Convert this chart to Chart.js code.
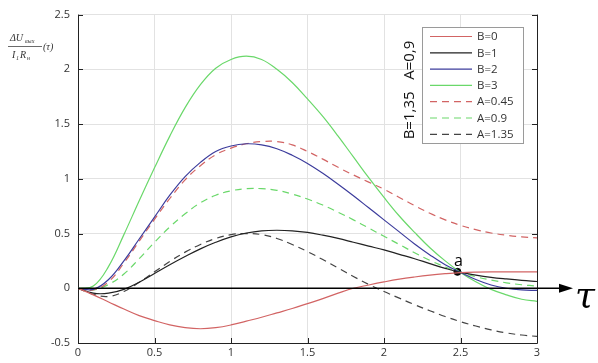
<!DOCTYPE html>
<html><head><meta charset="utf-8">
<script src="https://cdn.jsdelivr.net/npm/chart.js@4"></script>
<style>html,body{margin:0;padding:0;background:#fff}#wrap{width:598px;height:363px}</style>
</head><body><div id="wrap"><canvas id="c" width="598" height="363"></canvas></div>
<script>
const taus = [0,0.1,0.2,0.3,0.4,0.5,0.6,0.7,0.8,0.9,1.0,1.1,1.2,1.3,1.4,1.5,1.6,1.7,1.8,1.9,2.0,2.1,2.2,2.3,2.4,2.5,2.6,2.7,2.8,2.9,3.0];
const B0 = [0,-0.06,-0.125,-0.19,-0.25,-0.295,-0.335,-0.36,-0.37,-0.36,-0.335,-0.30,-0.265,-0.225,-0.185,-0.14,-0.095,-0.045,0.0,0.03,0.058,0.083,0.103,0.12,0.133,0.143,0.148,0.15,0.15,0.15,0.15];
const B1 = [0,-0.045,-0.045,-0.01,0.055,0.135,0.215,0.29,0.36,0.42,0.47,0.505,0.525,0.53,0.525,0.51,0.485,0.455,0.42,0.385,0.35,0.31,0.27,0.225,0.182,0.145,0.12,0.10,0.085,0.072,0.062];
const B2 = [0,-0.01,0.08,0.25,0.45,0.65,0.85,1.02,1.15,1.25,1.30,1.32,1.31,1.275,1.215,1.14,1.05,0.95,0.845,0.735,0.625,0.515,0.405,0.305,0.215,0.145,0.08,0.03,0.0,-0.015,-0.02];
const B3 = [0,0.02,0.2,0.49,0.8,1.1,1.39,1.65,1.86,2.01,2.09,2.12,2.09,2.0,1.88,1.73,1.57,1.39,1.2,1.01,0.83,0.66,0.51,0.37,0.25,0.145,0.06,-0.01,-0.06,-0.10,-0.12];
const A045 = [0,-0.015,0.06,0.23,0.43,0.63,0.82,0.99,1.12,1.22,1.28,1.32,1.34,1.34,1.31,1.25,1.18,1.105,1.035,0.97,0.905,0.83,0.755,0.685,0.625,0.575,0.535,0.505,0.485,0.47,0.46];
const A09 = [0,-0.015,0.035,0.13,0.27,0.42,0.56,0.68,0.78,0.85,0.89,0.91,0.91,0.895,0.86,0.815,0.76,0.695,0.625,0.55,0.475,0.40,0.325,0.255,0.195,0.145,0.105,0.075,0.05,0.032,0.02];
const A135 = [0,-0.055,-0.075,-0.03,0.055,0.15,0.245,0.33,0.40,0.455,0.49,0.50,0.49,0.455,0.40,0.335,0.262,0.185,0.108,0.035,-0.03,-0.09,-0.15,-0.205,-0.258,-0.305,-0.345,-0.38,-0.408,-0.427,-0.44];
const pointA = [{x:2.48, y:0.15}];
const seriesLabels = ['B=0','B=1','B=2','B=3','A=0.45','A=0.9','A=1.35'];
const xTicks = [0,0.5,1,1.5,2,2.5,3];
const yTicks = [-0.5,0,0.5,1,1.5,2,2.5];

const seriesData = [B0,B1,B2,B3,A045,A09,A135];
const colors = ['#d26464','#222222','#3c3c9c','#6ad86a','#d26464','#6ad86a','#444444'];
const dashed = [false,false,false,false,true,true,true];
const toXY = arr => arr.map((v,i)=>({x:taus[i], y:v}));

const datasets = seriesData.map((arr,i)=>({
  label: seriesLabels[i], data: toXY(arr), borderColor: colors[i], borderWidth: 1.2,
  borderDash: dashed[i] ? [7,5] : [], pointRadius: 0, tension: 0.4, fill:false
}));
datasets.push({label:'a', type:'scatter', data: pointA, pointRadius: 3.5, backgroundColor:'#000', borderColor:'#000', isPoint:true});

const overlay = {
  id:'overlay',
  beforeDatasetsDraw(chart){
    const {ctx, scales:{x,y}, chartArea:a} = chart;
    ctx.save();
    ctx.strokeStyle = '#222'; ctx.lineWidth = 1;
    ctx.beginPath();
    ctx.moveTo(a.left+0.5, a.top); ctx.lineTo(a.left+0.5, a.bottom+0.5);
    ctx.lineTo(a.right+0.5, a.bottom+0.5); ctx.lineTo(a.right+0.5, a.top);
    ctx.stroke();
    ctx.beginPath();
    yTicks.forEach(v=>{ const py=Math.round(y.getPixelForValue(v))+0.5;
      ctx.moveTo(a.left, py); ctx.lineTo(a.left+5, py);
      ctx.moveTo(a.right, py); ctx.lineTo(a.right-5, py); });
    xTicks.forEach(v=>{ const px=Math.round(x.getPixelForValue(v))+0.5;
      ctx.moveTo(px, a.bottom); ctx.lineTo(px, a.bottom-5); });
    ctx.stroke();
    ctx.restore();
  },
  afterDatasetsDraw(chart){
    const {ctx, scales:{x,y}, chartArea:a} = chart;
    ctx.save();
    const y0 = y.getPixelForValue(0);
    ctx.strokeStyle='#000'; ctx.lineWidth=1.6;
    ctx.beginPath(); ctx.moveTo(a.left, y0); ctx.lineTo(a.right+26, y0); ctx.stroke();
    ctx.fillStyle='#000';
    ctx.beginPath(); ctx.moveTo(a.right+36, y0); ctx.lineTo(a.right+22, y0-4.5); ctx.lineTo(a.right+22, y0+4.5); ctx.closePath(); ctx.fill();
    ctx.font='italic 36px "DejaVu Serif", "Liberation Serif", serif';
    ctx.textAlign='left'; ctx.textBaseline='middle';
    ctx.fillText('τ', a.right+38, y0+9);
    const pa = pointA[0];
    ctx.font='16px "Open Sans", "DejaVu Sans", sans-serif';
    ctx.textAlign='center'; ctx.textBaseline='bottom';
    ctx.fillText('a', x.getPixelForValue(pa.x)+1, y.getPixelForValue(pa.y)-2);
    // legend
    const lx=422, ly=27, lw=101, lh=116;
    ctx.fillStyle='#fff'; ctx.fillRect(lx,ly,lw,lh);
    ctx.strokeStyle='#9a9a9a'; ctx.lineWidth=1; ctx.strokeRect(lx+0.5,ly+0.5,lw,lh);
    ctx.font='11.5px "Open Sans", "DejaVu Sans", sans-serif';
    ctx.textAlign='left'; ctx.textBaseline='middle';
    chart.data.datasets.forEach((ds,i)=>{
      if (ds.isPoint) return;
      const ry = 36.5 + i*16.3;
      ctx.strokeStyle = ds.borderColor; ctx.lineWidth=1.2;
      ctx.setLineDash(ds.borderDash||[]);
      ctx.beginPath(); ctx.moveTo(430, ry); ctx.lineTo(472, ry); ctx.stroke();
      ctx.setLineDash([]);
      ctx.fillStyle='#333'; ctx.fillText(ds.label, 477, ry+0.5);
    });
    ctx.save();
    ctx.translate(410, 90); ctx.rotate(-Math.PI/2);
    ctx.font='15px "Open Sans", "DejaVu Sans", sans-serif';
    ctx.fillStyle='#111'; ctx.textAlign='center'; ctx.textBaseline='middle';
    ctx.fillText('B=1,35   A=0,9', 0, 0);
    ctx.restore();
    // y axis title (fraction)
    ctx.fillStyle='#333';
    const f9='italic 10px "Liberation Serif", "DejaVu Serif", serif';
    const f5='italic 6px "Liberation Serif", serif';
    ctx.textAlign='left'; ctx.textBaseline='alphabetic';
    ctx.font=f9; ctx.fillText('ΔU', 10, 41);
    ctx.font=f5; ctx.fillText('вых', 25, 43);
    ctx.strokeStyle='#444'; ctx.lineWidth=0.8;
    ctx.beginPath(); ctx.moveTo(8, 46.5); ctx.lineTo(42, 46.5); ctx.stroke();
    ctx.font=f9; ctx.fillText('I', 12, 58);
    ctx.font=f5; ctx.fillText('1', 16, 60);
    ctx.font=f9; ctx.fillText('R', 20, 58);
    ctx.font=f5; ctx.fillText('н', 27, 60);
    ctx.font=f9; ctx.fillText('(τ)', 43, 50);
    ctx.restore();
  }
};

new Chart(document.getElementById('c'), {
  type:'line',
  data:{ datasets },
  options:{
    responsive:false, animation:false, devicePixelRatio:1,
    layout:{ padding:{ top:14, right:61, left:0, bottom:0 } },
    plugins:{ legend:{display:false}, tooltip:{enabled:false} },
    scales:{
      x:{ type:'linear', min:0, max:3,
        afterBuildTicks: s => { s.ticks = xTicks.map(v=>({value:v})); },
        ticks:{ callback: v => String(v), color:'#333', font:{size:11, family:'"Open Sans", "DejaVu Sans", sans-serif'}, padding:3, maxRotation:0 },
        grid:{ color:'#e2e2e2', drawTicks:false }, border:{display:false},
        afterFit: s => { s.height = 20; } },
      y:{ type:'linear', min:-0.5, max:2.5,
        afterBuildTicks: s => { s.ticks = yTicks.map(v=>({value:v})); },
        ticks:{ callback: v => String(v), color:'#333', font:{size:11, family:'"Open Sans", "DejaVu Sans", sans-serif'}, padding:8 },
        grid:{ color:'#e2e2e2', drawTicks:false }, border:{display:false},
        afterFit: s => { s.width = 78; } }
    }
  },
  plugins:[overlay]
});
</script>
</body></html>
